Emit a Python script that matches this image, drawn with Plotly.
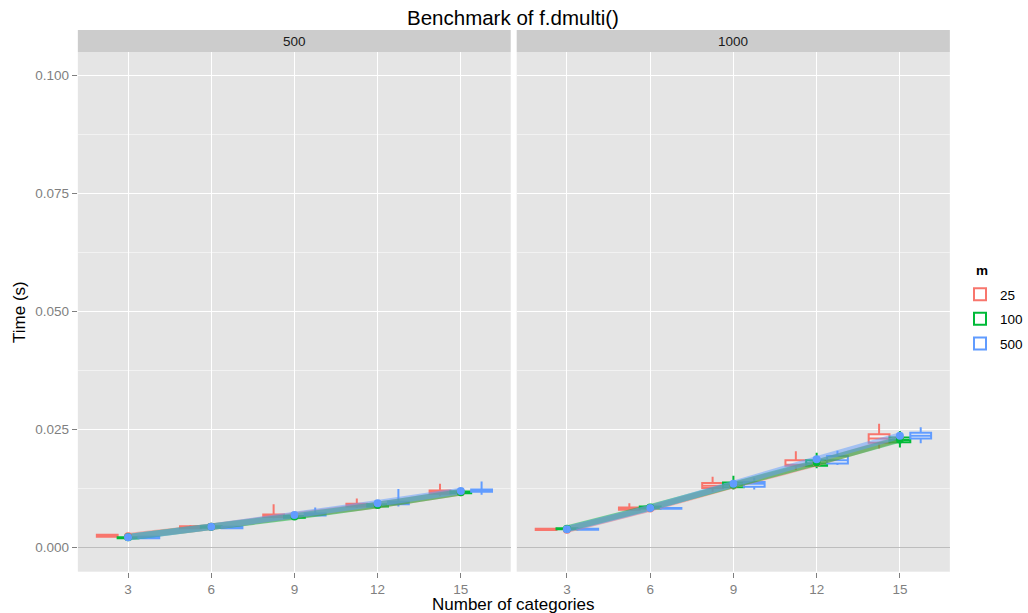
import plotly.graph_objects as go

# ---------------- data ----------------
categories = [3, 6, 9, 12, 15]
series_names = ["25", "100", "500"]
panels = ["500", "1000"]

# n = 500 panel
p500_m25_med = [0.0025, 0.0043, 0.0068, 0.0090, 0.0118]
p500_m25_q1 = [0.0023, 0.0041, 0.0065, 0.0087, 0.0114]
p500_m25_q3 = [0.0027, 0.0045, 0.0070, 0.0093, 0.0121]
p500_m25_lo = [0.0021, 0.0039, 0.0062, 0.0084, 0.0110]
p500_m25_hi = [0.0029, 0.0048, 0.0092, 0.0104, 0.0135]

p500_m100_med = [0.0021, 0.0044, 0.0065, 0.0090, 0.0117]
p500_m100_q1 = [0.0020, 0.0042, 0.0063, 0.0087, 0.0115]
p500_m100_q3 = [0.0022, 0.0045, 0.0067, 0.0092, 0.0119]
p500_m100_lo = [0.0019, 0.0041, 0.0061, 0.0085, 0.0112]
p500_m100_hi = [0.0024, 0.0047, 0.0070, 0.0096, 0.0122]

p500_m500_med = [0.0022, 0.0043, 0.0070, 0.0095, 0.0121]
p500_m500_q1 = [0.0020, 0.0041, 0.0068, 0.0092, 0.0118]
p500_m500_q3 = [0.0023, 0.0044, 0.0072, 0.0097, 0.0123]
p500_m500_lo = [0.0019, 0.0040, 0.0066, 0.0087, 0.0112]
p500_m500_hi = [0.0025, 0.0046, 0.0085, 0.0124, 0.0140]

# n = 1000 panel
p1000_m25_med = [0.0038, 0.0082, 0.0131, 0.0175, 0.0231]
p1000_m25_q1 = [0.0037, 0.0080, 0.0126, 0.0173, 0.0222]
p1000_m25_q3 = [0.0040, 0.0085, 0.0137, 0.0185, 0.0240]
p1000_m25_lo = [0.0036, 0.0078, 0.0118, 0.0164, 0.0210]
p1000_m25_hi = [0.0042, 0.0094, 0.0150, 0.0204, 0.0262]

p1000_m100_med = [0.0040, 0.0085, 0.0133, 0.0178, 0.0228]
p1000_m100_q1 = [0.0039, 0.0083, 0.0128, 0.0173, 0.0223]
p1000_m100_q3 = [0.0041, 0.0087, 0.0138, 0.0185, 0.0233]
p1000_m100_lo = [0.0037, 0.0081, 0.0123, 0.0168, 0.0212]
p1000_m100_hi = [0.0043, 0.0089, 0.0152, 0.0201, 0.0247]

p1000_m500_med = [0.0039, 0.0083, 0.0135, 0.0185, 0.0237]
p1000_m500_q1 = [0.0038, 0.0082, 0.0129, 0.0178, 0.0231]
p1000_m500_q3 = [0.0040, 0.0084, 0.0139, 0.0194, 0.0243]
p1000_m500_lo = [0.0037, 0.0081, 0.0123, 0.0175, 0.0221]
p1000_m500_hi = [0.0041, 0.0086, 0.0148, 0.0205, 0.0255]

# mean points used by the smoothed lines
p500_mean = {"25": [0.0024, 0.0044, 0.0068, 0.0090, 0.0117],
             "100": [0.0022, 0.0044, 0.0066, 0.0090, 0.0117],
             "500": [0.0022, 0.0044, 0.0069, 0.0094, 0.0120]}
p1000_mean = {"25": [0.0038, 0.0083, 0.0132, 0.0179, 0.0231],
              "100": [0.0040, 0.0085, 0.0133, 0.0180, 0.0229],
              "500": [0.0039, 0.0084, 0.0135, 0.0187, 0.0237]}

y_ticks = [0.000, 0.025, 0.050, 0.075, 0.100]

# ---------------- style ----------------
colors = {"25": "#F8766D", "100": "#00BA38", "500": "#619CFF"}
dodge = {"25": -0.75, "100": 0.0, "500": 0.75}
W, H = 1028, 613
FONT = "Liberation Sans, Arial, sans-serif"

stats = {
    "500": {
        "25": (p500_m25_q1, p500_m25_med, p500_m25_q3, p500_m25_lo, p500_m25_hi),
        "100": (p500_m100_q1, p500_m100_med, p500_m100_q3, p500_m100_lo, p500_m100_hi),
        "500": (p500_m500_q1, p500_m500_med, p500_m500_q3, p500_m500_lo, p500_m500_hi),
    },
    "1000": {
        "25": (p1000_m25_q1, p1000_m25_med, p1000_m25_q3, p1000_m25_lo, p1000_m25_hi),
        "100": (p1000_m100_q1, p1000_m100_med, p1000_m100_q3, p1000_m100_lo, p1000_m100_hi),
        "500": (p1000_m500_q1, p1000_m500_med, p1000_m500_q3, p1000_m500_lo, p1000_m500_hi),
    },
}
means = {"500": p500_mean, "1000": p1000_mean}

fig = go.Figure()
axes = {"500": ("x", "y"), "1000": ("x2", "y2")}

for pi, panel in enumerate(panels):
    xa, ya = axes[panel]
    for s in series_names:
        q1, med, q3, lo, hi = stats[panel][s]
        fig.add_trace(go.Box(
            x=[c + dodge[s] for c in categories],
            q1=q1, median=med, q3=q3, lowerfence=lo, upperfence=hi,
            width=0.75, boxpoints=False, whiskerwidth=0,
            line=dict(color=colors[s], width=2),
            fillcolor="rgba(255,255,255,0.55)",
            name=s, legendgroup=s, showlegend=(pi == 0),
            xaxis=xa, yaxis=ya,
        ))
    for s in series_names:
        fig.add_trace(go.Scatter(
            x=categories, y=means[panel][s], mode="lines",
            line=dict(color=colors[s], width=6.5, shape="spline", smoothing=0.8),
            opacity=0.5, showlegend=False, hoverinfo="skip",
            xaxis=xa, yaxis=ya,
        ))
    for s in series_names:
        fig.add_trace(go.Scatter(
            x=categories, y=means[panel][s], mode="markers",
            marker=dict(color=colors[s], size=8),
            showlegend=False, hoverinfo="skip",
            xaxis=xa, yaxis=ya,
        ))

px = lambda v: v / W
py = lambda v: 1 - v / H

x1_dom = [px(78), px(511.7)]
x2_dom = [px(517.7), px(951.7)]
y_dom = [py(571.7), py(52)]

xcommon = dict(range=[1.19, 16.8], tickvals=categories, ticks="outside", ticklen=5,
               tickcolor="#7F7F7F", tickwidth=1, tickfont=dict(size=13.5, color="#7F7F7F", family=FONT),
               showgrid=True, gridcolor="#FFFFFF", gridwidth=1.2, zeroline=False,
               showline=False, fixedrange=True)
ycommon = dict(range=[-0.0051, 0.1049], tickvals=y_ticks, tickformat=".3f",
               ticks="outside", ticklen=5, tickcolor="#7F7F7F", tickwidth=1,
               tickfont=dict(size=13.5, color="#7F7F7F", family=FONT),
               showgrid=True, gridcolor="#FFFFFF", gridwidth=1.2,
               minor=dict(showgrid=True, gridcolor="#F2F2F2", gridwidth=0.6, dtick=0.0125, tick0=0),
               zeroline=True, zerolinecolor="#BDBDBD", zerolinewidth=1.2,
               showline=False, fixedrange=True)

fig.update_layout(
    width=W, height=H, autosize=False,
    margin=dict(l=0, r=0, t=0, b=0),
    paper_bgcolor="white", plot_bgcolor="#E5E5E5",
    font=dict(family=FONT, color="black"),
    xaxis=dict(domain=x1_dom, anchor="y", **xcommon),
    xaxis2=dict(domain=x2_dom, anchor="y2", **xcommon),
    yaxis=dict(domain=y_dom, anchor="x", **ycommon),
    yaxis2=dict(domain=y_dom, anchor="x2", matches="y", showticklabels=False, ticks="",
                **{k: v for k, v in ycommon.items() if k not in ("ticks", "tickfont", "tickformat", "tickvals", "ticklen", "tickcolor", "tickwidth")},
                tickvals=y_ticks),
    boxmode="overlay",
    showlegend=True,
    legend=dict(x=px(962), y=py(279), xanchor="left", yanchor="top",
                font=dict(size=13.5, family=FONT), bgcolor="rgba(0,0,0,0)",
                tracegroupgap=4),
)

shapes = []
annotations = []
for dom, label in ((x1_dom, panels[0]), (x2_dom, panels[1])):
    shapes.append(dict(type="rect", xref="paper", yref="paper", x0=dom[0], x1=dom[1],
                       y0=py(52), y1=py(30), fillcolor="#CCCCCC", line=dict(width=0), layer="below"))
    annotations.append(dict(text=label, xref="paper", yref="paper", x=(dom[0] + dom[1]) / 2, y=py(41),
                            xanchor="center", yanchor="middle", showarrow=False,
                            font=dict(size=13.5, color="#1A1A1A", family=FONT)))

annotations.append(dict(text="<b>m</b>", xref="paper", yref="paper", x=px(976), y=py(270),
                        xanchor="left", yanchor="middle", showarrow=False,
                        font=dict(size=13.5, color="black", family=FONT)))
annotations.append(dict(text="Benchmark of f.dmulti()", xref="paper", yref="paper", x=px(514), y=py(18),
                        xanchor="center", yanchor="middle", showarrow=False,
                        font=dict(size=20.5, color="black", family=FONT)))
annotations.append(dict(text="Number of categories", xref="paper", yref="paper", x=px(515), y=py(604),
                        xanchor="center", yanchor="middle", showarrow=False,
                        font=dict(size=17, color="black", family=FONT)))
annotations.append(dict(text="Time (s)", xref="paper", yref="paper", x=px(19), y=py(312),
                        xanchor="center", yanchor="middle", showarrow=False, textangle=-90,
                        font=dict(size=17, color="black", family=FONT)))

fig.update_layout(shapes=shapes, annotations=annotations)
fig.write_html("out.html", config={"displayModeBar": False},
               post_script="document.body.style.margin='0';document.body.style.overflow='hidden';")
